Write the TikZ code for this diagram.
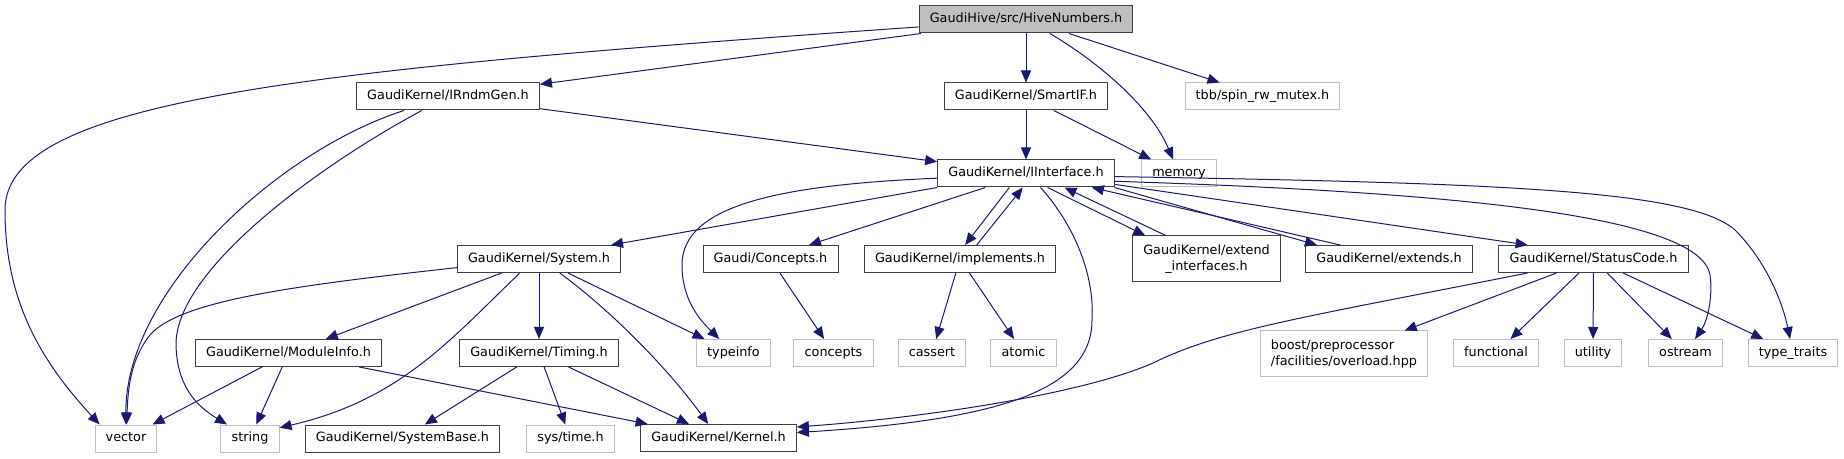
\documentclass[tikz,border=0pt]{standalone}
\usepackage{fontspec}
\setmainfont{DejaVu Sans}
\usetikzlibrary{arrows.meta}

\definecolor{navy}{RGB}{25,25,112}
\newcommand\hfont{\fontsize{9.6}{12}\selectfont}

\begin{document}
\begin{tikzpicture}[x=0.75pt,y=-0.75pt,
    box/.style={draw=black!75,fill=white,line width=0.75pt,inner xsep=8pt,inner ysep=0pt,minimum height=20.25pt,font=\hfont},
    hdr/.style={box,text height=7.3pt,text depth=2.3pt},
    sys/.style={hdr,draw=black!25},
    incl/.style={navy,line width=0.75pt,-{Triangle[length=9pt,width=7.5pt]}}]
  \useasboundingbox (0,0) rectangle (1844,459);

  \node[hdr,fill=black!25] (hive) at (1026,19.5) {GaudiHive/src/HiveNumbers.h};
  \node[hdr] (irndm) at (448,96.5) {GaudiKernel/IRndmGen.h};
  \node[hdr] (smartif) at (1026,96.5) {GaudiKernel/SmartIF.h};
  \node[hdr] (iface) at (1026,173.5) {GaudiKernel/IInterface.h};
  \node[hdr] (system) at (539,259) {GaudiKernel/System.h};
  \node[hdr] (gconcepts) at (770.5,259) {Gaudi/Concepts.h};
  \node[hdr] (implements) at (960,259) {GaudiKernel/implements.h};
  \node[box,align=center,minimum height=34.5pt] (extif) at (1206.5,259) {GaudiKernel/extend\\\_interfaces.h};
  \node[hdr] (extends) at (1389,259) {GaudiKernel/extends.h};
  \node[hdr] (status) at (1593.5,259) {GaudiKernel/StatusCode.h};
  \node[hdr] (modinfo) at (288.5,353) {GaudiKernel/ModuleInfo.h};
  \node[hdr] (timing) at (539,353) {GaudiKernel/Timing.h};
  \node[hdr] (sysbase) at (402.5,438.5) {GaudiKernel/SystemBase.h};
  \node[hdr] (kernel) at (718.5,438) {GaudiKernel/Kernel.h};
  \node[box,draw=black!25,align=left,minimum height=33.75pt] (boost) at (1344,353.5) {boost/preprocessor\\/facilities/overload.hpp};

  % system headers
  \foreach \n/\x/\y/\t in {tbb/1262.5/96.5/{tbb/spin\_rw\_mutex.h}, memory/1179/173.5/{memory},
      typeinfo/733.5/353/{typeinfo}, concepts/833.5/353/{concepts}, cassert/932/353/{cassert},
      atomic/1023.5/353/{atomic}, functional/1496/353/{functional}, utility/1593/353/{utility},
      ostream/1685.5/353/{ostream}, traits/1793/353/{type\_traits}, vector/126/438.5/{vector},
      string/250/438.5/{string}, systime/570.5/438.5/{sys/time.h}}
    \node[sys] (\n) at (\x,\y) {\t};

  \draw[incl] (hive) .. controls (300,70) and (5,100) .. (5,210)
    .. controls (5,300) and (40,360) .. (vector.152);
  \draw[incl] (hive) -- (irndm);
  \draw[incl] (hive) -- (smartif);
  \draw[incl] (hive) .. controls (1095,60) and (1150,105) .. (memory);
  \draw[incl] (hive) -- (tbb);

  \draw[incl] (irndm) -- (iface);
  \draw[incl] (irndm) .. controls (280,150) and (125,290) .. (vector);
  \draw[incl] (irndm) .. controls (320,165) and (175,270) .. (176,345)
    .. controls (177,385) and (195,405) .. (string);

  \draw[incl] (smartif) -- (iface);
  \draw[incl] (smartif) -- (memory);

  \draw[incl] (iface.south west) -- (system.11);
  \draw[incl] (iface.183) .. controls (780,185) and (682,205) .. (682,265)
    .. controls (682,300) and (700,320) .. (typeinfo);
  \draw[incl] (iface.199) -- (gconcepts.20);
  \draw[incl] (iface.220) -- (implements.70);
  \draw[incl] (implements.40) -- (iface.257);
  \draw[incl] (iface.316) .. controls (1070,220) and (1095,270) .. (1092,320)
    .. controls (1092,390) and (1000,420) .. (kernel.4);
  \draw[incl] (iface.327) -- (extif.159);
  \draw[incl] (extif.150) -- (iface.340);
  \draw[incl] (iface.351) -- (extends.169);
  \draw[incl] (extends.164) -- (iface.348);
  \draw[incl] (iface.353) -- (status.168);
  \draw[incl] (iface.355) .. controls (1450,192) and (1700,215) .. (1710,275)
    .. controls (1713,295) and (1708,320) .. (ostream);
  \draw[incl] (iface.358) .. controls (1500,183) and (1690,190) .. (1735,230)
    .. controls (1765,260) and (1782,300) .. (traits);

  \draw[incl] (system.186) .. controls (300,285) and (180,300) .. (150,335)
    .. controls (130,360) and (128,390) .. (vector);
  \draw[incl] (system) -- (modinfo);
  \draw[incl] (system.216) .. controls (450,340) and (400,400) .. (string.20);
  \draw[incl] (system) -- (timing);
  \draw[incl] (system.326) .. controls (610,310) and (665,365) .. (kernel);
  \draw[incl] (system) -- (typeinfo);

  \draw[incl] (modinfo) -- (vector);
  \draw[incl] (modinfo) -- (string);
  \draw[incl] (modinfo) -- (kernel);
  \draw[incl] (timing) -- (sysbase);
  \draw[incl] (timing) -- (systime);
  \draw[incl] (timing) -- (kernel);
  \draw[incl] (gconcepts) -- (concepts);
  \draw[incl] (implements) -- (cassert);
  \draw[incl] (implements) -- (atomic);

  \draw[incl] (status.192) .. controls (1300,318) and (1220,330) .. (1153,363)
    .. controls (1080,395) and (920,418) .. (kernel.8);
  \foreach \t in {boost,functional,utility,ostream,traits}
    \draw[incl] (status) -- (\t);
\end{tikzpicture}
\end{document}
